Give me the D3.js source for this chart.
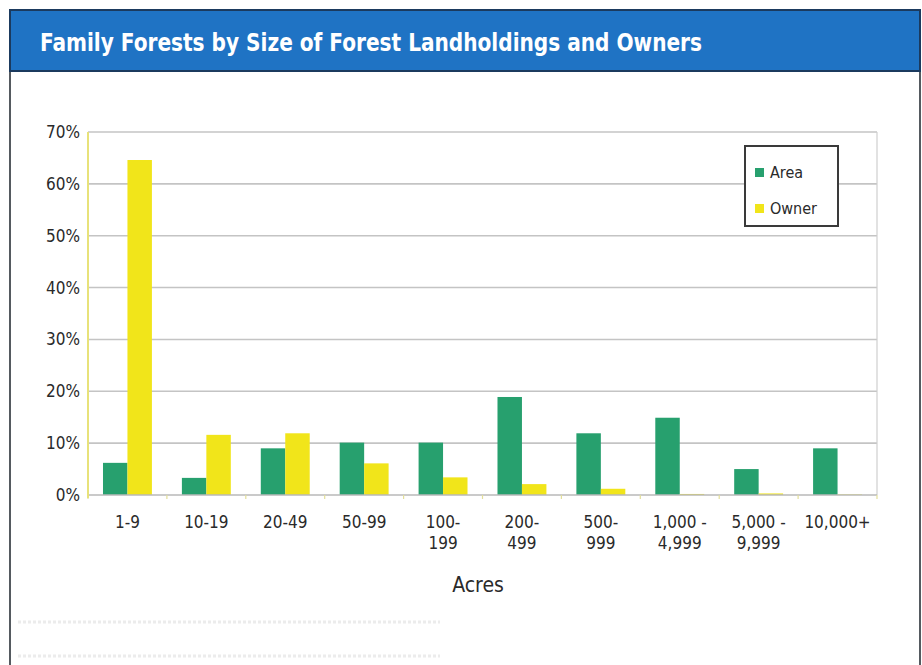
<!DOCTYPE html>
<html>
<head>
<meta charset="utf-8">
<script src="https://cdn.jsdelivr.net/npm/d3@7/dist/d3.min.js"></script>
<style>
  html, body { margin: 0; padding: 0; background: #ffffff; }
  svg { display: block; }
  text { font-family: "Liberation Sans Narrow", "DejaVu Sans Condensed", "Arial Narrow", sans-serif; }
</style>
</head>
<body>
<svg id="chart" width="922" height="665"></svg>
<script>
// Acreage classes of family forest holdings
const categories = [["1-9"], ["10-19"], ["20-49"], ["50-99"], ["100-", "199"], ["200-", "499"],
  ["500-", "999"], ["1,000 -", "4,999"], ["5,000 -", "9,999"], ["10,000+"]];
// Share of family forest area (%) per size class
const areaValues = [6.2, 3.3, 9.0, 10.1, 10.1, 18.9, 11.9, 14.9, 5.0, 9.0];
// Share of family forest owners (%) per size class
const ownerValues = [64.6, 11.6, 11.9, 6.1, 3.4, 2.1, 1.2, 0.2, 0.3, 0.1];
const seriesNames = ["Area", "Owner"];
const yTicks = [0, 10, 20, 30, 40, 50, 60, 70];

const colors = { Area: "#27a06e", Owner: "#f1e51a" };

const svg = d3.select("#chart");
const W = 922, H = 665;

// Outer panel and header band
svg.append("rect").attr("x", 10).attr("y", 10).attr("width", 910).attr("height", 670)
  .attr("fill", "#ffffff").attr("stroke", "#555a60").attr("stroke-width", 2);
svg.append("rect").attr("x", 10).attr("y", 10).attr("width", 910).attr("height", 61)
  .attr("fill", "#1f73c4").attr("stroke", "#1b3a5e").attr("stroke-width", 2);
svg.append("text").attr("x", 40).attr("y", 51)
  .attr("fill", "#ffffff").attr("font-size", 24).attr("font-weight", "bold")
  .attr("textLength", 662).attr("lengthAdjust", "spacingAndGlyphs")
  .text("Family Forests by Size of Forest Landholdings and Owners");

// Plot area
const m = { left: 88, right: 877, top: 132, bottom: 495 };
const keys = categories.map(c => c.join(" "));
const x0 = d3.scaleBand().domain(keys).range([m.left, m.right]).paddingInner(0.38).paddingOuter(0.19);
const x1 = d3.scaleBand().domain(seriesNames).range([0, x0.bandwidth()]);
const y = d3.scaleLinear().domain([0, 70]).range([m.bottom, m.top]);

const g = svg.append("g");

// Horizontal gridlines
g.selectAll("line.grid").data(yTicks.filter(t => t > 0)).join("line")
  .attr("class", "grid")
  .attr("x1", m.left).attr("x2", m.right)
  .attr("y1", d => y(d)).attr("y2", d => y(d))
  .attr("stroke", "#c4c4c4").attr("stroke-width", 1.6);

// Right frame of the plot
g.append("line").attr("x1", m.right).attr("x2", m.right).attr("y1", m.top).attr("y2", m.bottom)
  .attr("stroke", "#cfcfcf").attr("stroke-width", 1.2);

// Y axis labels
const yAxis = d3.axisLeft(y).tickValues(yTicks).tickFormat(d => d + "%").tickSize(0).tickPadding(8);
const ya = svg.append("g").attr("transform", `translate(${m.left},0)`).call(yAxis);
ya.select(".domain").remove();
ya.selectAll("text").attr("font-size", 17).attr("fill", "#2a2a2a")
  .attr("font-family", "'Liberation Sans Narrow', 'DejaVu Sans Condensed', sans-serif");

// Bars
const rows = keys.map((k, i) => ({ key: k, values: [
  { name: "Area", v: areaValues[i] }, { name: "Owner", v: ownerValues[i] }] }));
const grp = g.selectAll("g.cat").data(rows).join("g")
  .attr("class", "cat").attr("transform", d => `translate(${x0(d.key)},0)`);
grp.selectAll("rect").data(d => d.values).join("rect")
  .attr("x", d => x1(d.name)).attr("width", x1.bandwidth())
  .attr("y", d => y(d.v)).attr("height", d => y(0) - y(d.v))
  .attr("fill", d => colors[d.name]);

// Baseline and category separators
g.append("line").attr("x1", m.left).attr("x2", m.right).attr("y1", m.bottom).attr("y2", m.bottom)
  .attr("stroke", "#b9b9b9").attr("stroke-width", 1.6);
const step = x0.step();
g.selectAll("line.sep").data(d3.range(keys.length + 1)).join("line")
  .attr("class", "sep")
  .attr("x1", i => m.left + i * step).attr("x2", i => m.left + i * step)
  .attr("y1", m.bottom).attr("y2", m.bottom + 4)
  .attr("stroke", "#e3df9a").attr("stroke-width", 1.2);

// Y axis line
g.append("line").attr("x1", m.left).attr("x2", m.left).attr("y1", m.top).attr("y2", m.bottom + 3)
  .attr("stroke", "#e8e27a").attr("stroke-width", 2);

// X category labels (one or two lines)
const xl = svg.append("g");
xl.selectAll("text").data(categories).join("text")
  .attr("x", (d, i) => x0(keys[i]) + x0.bandwidth() / 2)
  .attr("y", 528)
  .attr("text-anchor", "middle").attr("font-size", 17).attr("fill", "#2a2a2a")
  .each(function(d) {
    const t = d3.select(this);
    d.forEach((line, j) => t.append("tspan")
      .attr("x", t.attr("x")).attr("dy", j === 0 ? 0 : 21).text(line));
  });

// Axis title
svg.append("text").attr("x", 478).attr("y", 592).attr("text-anchor", "middle")
  .attr("font-size", 21).attr("fill", "#2a2a2a").text("Acres");

// Legend
const lg = svg.append("g").attr("transform", "translate(745,146)");
lg.append("rect").attr("width", 93).attr("height", 80)
  .attr("fill", "#ffffff").attr("stroke", "#3a3a3a").attr("stroke-width", 2);
seriesNames.forEach((s, i) => {
  lg.append("rect").attr("x", 10).attr("y", 22 + i * 36).attr("width", 9).attr("height", 9)
    .attr("fill", colors[s]);
  lg.append("text").attr("x", 25).attr("y", 32 + i * 36).attr("font-size", 16)
    .attr("fill", "#2a2a2a").text(s);
});

// Faint ruled lines at the foot of the panel
svg.selectAll("line.foot").data([622, 656]).join("line")
  .attr("class", "foot")
  .attr("x1", 18).attr("x2", 252 * 1.0 + 188).attr("y1", d => d).attr("y2", d => d)
  .attr("stroke", "#ececec").attr("stroke-width", 3).attr("stroke-dasharray", "3 2");
</script>
</body>
</html>
